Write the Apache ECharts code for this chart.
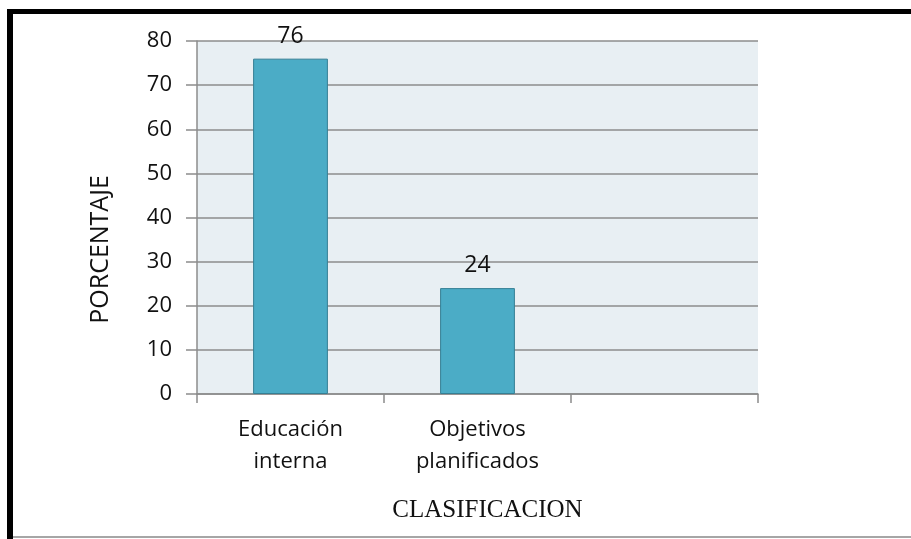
<!DOCTYPE html>
<html>
<head>
<meta charset="utf-8">
<script src="https://cdn.jsdelivr.net/npm/echarts@6/dist/echarts.min.js"></script>
<style>
    html, body { margin: 0; padding: 0; background: #fff; }
    #chart { width: 911px; height: 539px; }
</style>
</head>
<body>
<div id="chart"></div>
<script>
    // datos del grafico
    var categorias = ['Educación\ninterna', 'Objetivos\nplanificados', ''];
    var porcentajes = [76, 24, null];
    var ejeY = [0, 10, 20, 30, 40, 50, 60, 70, 80];

    var chart = echarts.init(document.getElementById('chart'));
    var gris = '#8c8c8c';

    chart.setOption({
        animation: false,
        // marco de la imagen
        graphic: [
            { type: 'rect', shape: { x: 7, y: 9, width: 904, height: 5 }, style: { fill: '#000' } },
            { type: 'rect', shape: { x: 7, y: 9, width: 6, height: 530 }, style: { fill: '#000' } },
            { type: 'rect', shape: { x: 13, y: 536, width: 898, height: 2 }, style: { fill: '#a6a6a6' } }
        ],
        grid: {
            left: 197,
            top: 41,
            right: 153,
            bottom: 145,
            show: true,
            backgroundColor: '#e8eff3',
            borderWidth: 0
        },
        xAxis: {
            type: 'category',
            data: categorias,
            name: 'CLASIFICACION',
            nameLocation: 'middle',
            nameGap: 104,
            nameTextStyle: {
                fontFamily: 'Liberation Serif',
                fontSize: 25,
                color: '#111',
                padding: [0, 0, 0, 20]
            },
            axisLine: { lineStyle: { color: gris, width: 1.5 } },
            axisTick: { show: true, length: 9, lineStyle: { color: gris, width: 1.5 } },
            axisLabel: {
                margin: 20,
                fontFamily: 'Open Sans',
                fontSize: 22,
                lineHeight: 32,
                color: '#111'
            }
        },
        yAxis: {
            type: 'value',
            min: ejeY[0],
            max: ejeY[ejeY.length - 1],
            interval: 10,
            name: 'PORCENTAJE',
            nameLocation: 'middle',
            nameGap: 84,
            nameTextStyle: {
                fontFamily: 'Open Sans',
                fontSize: 25,
                color: '#111',
                padding: [0, 64, 0, 0]
            },
            axisLine: { show: true, lineStyle: { color: gris, width: 1.5 } },
            axisTick: { show: true, length: 11, lineStyle: { color: gris, width: 1.5 } },
            splitLine: { lineStyle: { color: gris, width: 1.5 } },
            axisLabel: {
                margin: 25,
                fontFamily: 'Open Sans',
                fontSize: 22,
                color: '#111'
            }
        },
        series: [{
            type: 'bar',
            data: porcentajes,
            barWidth: '40%',
            itemStyle: {
                color: '#4bacc6',
                borderColor: '#357f94',
                borderWidth: 1
            },
            label: {
                show: true,
                position: 'top',
                distance: 11,
                fontFamily: 'Open Sans',
                fontSize: 23,
                color: '#111'
            }
        }]
    });
</script>
</body>
</html>
